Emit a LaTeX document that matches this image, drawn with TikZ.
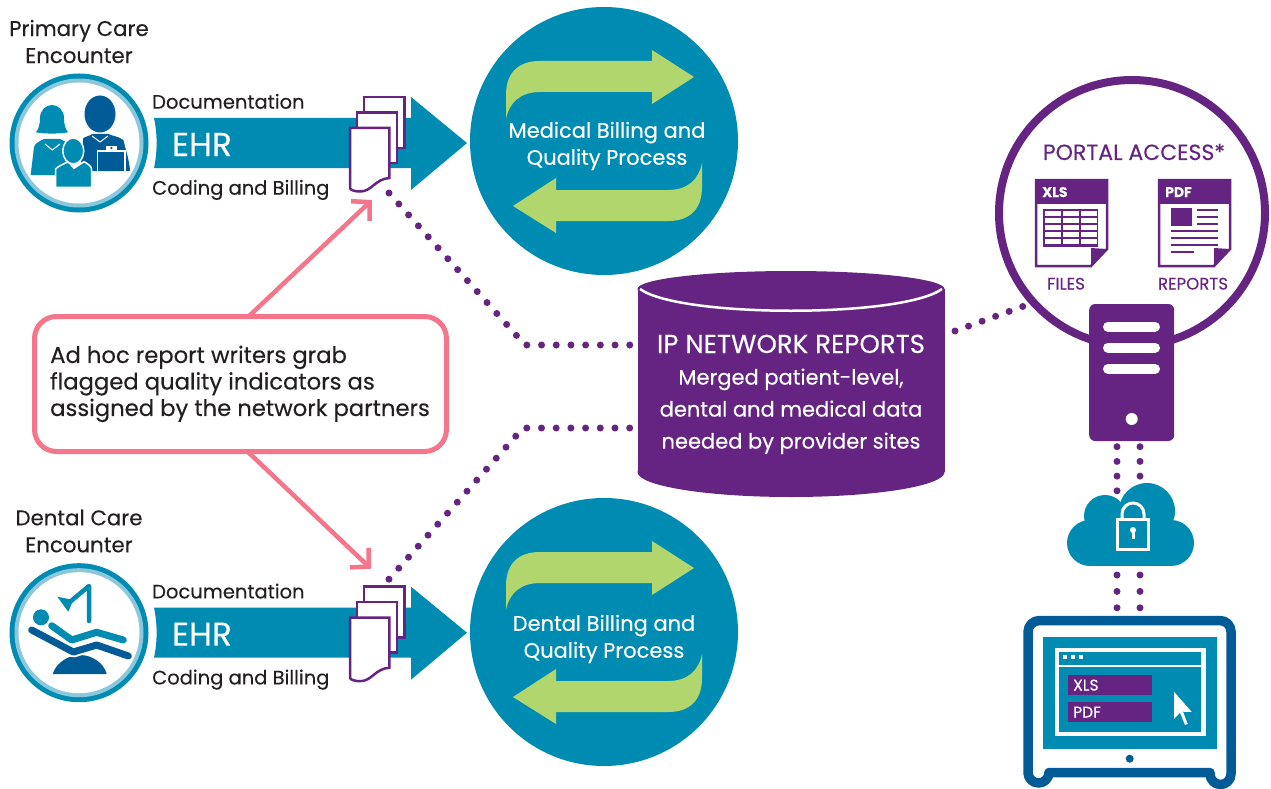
\documentclass[tikz,border=0pt]{standalone}
\usepackage{fontspec}
\setmainfont{Poppins}[FakeBold=0.25]
\usepackage{tikz}
\usetikzlibrary{arrows.meta,positioning}
\usepackage{xcolor}
\definecolor{hcteal}{RGB}{0,140,178}
\definecolor{hcring}{RGB}{139,200,220}
\definecolor{hcblue}{RGB}{0,91,150}
\definecolor{hcpurple}{RGB}{102,36,130}
\definecolor{hcgreen}{RGB}{178,214,110}
\definecolor{hcpink}{RGB}{245,117,138}
\definecolor{hcink}{RGB}{35,31,32}
\tikzstyle{inktext} = [text=hcink, font=\fontsize{21.3}{27}\selectfont, inner sep=0pt, align=center]
\tikzstyle{rowtext} = [text=hcink, font=\fontsize{19.5}{24}\selectfont, inner sep=0pt, anchor=base west]
\tikzstyle{whitetext} = [text=white, font=\fontsize{21}{27}\selectfont, inner sep=0pt, align=center]
\tikzstyle{dbtext} = [text=white, font=\fontsize{21}{32}\selectfont, inner sep=0pt, align=center]
\tikzstyle{smallpurple} = [text=hcpurple, font=\fontsize{16.6}{18}\selectfont, inner sep=0pt]
\tikzstyle{smallwhite} = [text=white, font=\fontsize{15.5}{18}\selectfont, inner sep=0pt]
\tikzstyle{pagebox} = [draw=hcpurple, fill=white, line width=2.5pt, line join=miter]
\tikzstyle{dotline} = [hcpurple, line width=7pt, line cap=round, dash pattern=on 0pt off 14.7pt]
\tikzstyle{dotnarrow} = [dotline, dash pattern=on 0pt off 14.4pt]
\tikzstyle{dotwide} = [dotline, dash pattern=on 0pt off 16.4pt]
\tikzstyle{pinkarrow} = [hcpink, line width=4.5pt, -{Straight Barb[length=13pt,width=27pt,line width=4.5pt]}]
\tikzstyle{notebox} = [draw=hcpink, line width=5pt, rounded corners=22pt, fill=white, minimum width=412pt, minimum height=135pt]
\tikzset{
  pics/ehrrow/.style={code={
    % Ring
    \fill[hcteal] (79,143) circle (69.5);
    \fill[hcring] (79,143) circle (64.5);
    \fill[white] (79,143) circle (60.5);
    % Arrow
    \fill[hcteal] (154,118) .. controls (157.5,134) and (157.5,152) .. (154,168) -- (411,168) -- (411,190) -- (467,143) -- (411,97) -- (411,118) -- cycle;
    \node[whitetext, anchor=base west, font=\fontsize{33}{36}\selectfont] (-ehr) at (172,156) {EHR};
    \node[rowtext] (-doclabel) at (152,108.7) {Documentation};
    \node[rowtext] (-codelabel) at (152,194.7) {Coding and Billing};
    % Pages
    \draw[pagebox] (364,97) rectangle (404.3,148);
    \draw[pagebox] (357,112.5) rectangle (397,163);
    \draw[pagebox] (350,128) -- (389.3,128) -- (389.3,178) .. controls (375,179) and (372,191.5) .. (360,191.5) .. controls (355,191.5) and (350,190) .. (350,188) -- cycle;
    \coordinate (-docout) at (389,193);
    \coordinate (-docin) at (372,200);
    \coordinate (-doctop) at (389,89.5);
    \coordinate (-docup) at (371,79);
  }},
  pics/billing/.style={code={
    \fill[hcteal] (604,141) circle (134);
    \fill[hcgreen] (506,119) -- (506,95) .. controls (506,73) and (518,61) .. (540,61) -- (652,61) -- (652,50) -- (694,77) -- (652,104) -- (652,92) -- (540,92) .. controls (520,92) and (509,103) .. (506,119) -- cycle;
    \fill[hcgreen] (702,163) -- (702,187) .. controls (702,209) and (690,221) .. (668,221) -- (556,221) -- (556,233) -- (513,206) -- (556,178) -- (556,190) -- (668,190) .. controls (688,190) and (699,179) .. (702,163) -- cycle;
  }},
  pics/filepage/.style={code={
    \draw[hcpurple, fill=white, line width=2.5pt] (0,0) -- (71,0) -- (71,69) -- (55,86) -- (0,86) -- cycle;
    \fill[hcpurple] (0,0) rectangle (71,24);
    \fill[hcpurple] (71,69) -- (55,86) -- (55,68) -- cycle;
  }}
}
\begin{document}
\begin{tikzpicture}[x=1pt,y=-1pt]
\useasboundingbox (0,0) rectangle (1271,789);

% Billing circles
\pic (medical) at (0,0) {billing};
\pic (dental) at (0,491) {billing};
\node[whitetext] (medicaltext) at (607,146) {Medical Billing and\\Quality Process};
\node[whitetext] (dentaltext) at (604,639) {Dental Billing and\\Quality Process};

% Encounter rows
\pic (primary) at (0,0) {ehrrow};
\pic (care) at (0,489.7) {ehrrow};
\node[inktext] (primarylabel) at (79,41.5) {Primary Care\\Encounter};
\node[inktext] (carelabel) at (79,531) {Dental Care\\Encounter};

% People icon
\fill[hcteal] (30.7,175) -- (34,147) .. controls (35,143) and (40,141) .. (44,139) -- (60,139) .. controls (64,141) and (70,143) .. (72,147) -- (72,175) -- cycle;
\draw[white, line width=1pt] (45,144) -- (52.3,150) -- (60,144);
\fill[hcteal] (35.7,132.3) .. controls (38,130) and (40,126) .. (40,118) .. controls (40,110) and (46,105) .. (52,105) .. controls (58,105) and (64,110) .. (64,118) .. controls (64,126) and (66,130) .. (68.3,132.3) .. controls (58,134) and (46,134) .. (35.7,132.3) -- cycle;
\fill[hcblue] (100,114) ellipse [x radius=15.5, y radius=18.5];
\fill[hcblue] (83.3,138) .. controls (86,136) and (90,136) .. (92.3,134) -- (108.3,134) .. controls (112,136) and (118,136) .. (123.3,140) .. controls (126,150) and (129,160) .. (130,170) -- (129,171) -- (80,171) -- cycle;
\draw[white, line width=1pt] (92,136) -- (100,142) -- (108,136);
\draw[white, line width=1.2pt, fill=hcblue] (97.3,171) -- (97.3,151) -- (125,151) -- (125,171);
\fill[white] (106,146) rectangle (116.7,151);
\fill[hcblue] (111.3,148) circle (1.3);
\draw[white, line width=1.5pt, fill=hcteal] (55.7,187.3) -- (55.7,169) .. controls (58,166) and (64,164) .. (68.3,161.7) -- (74,168.3) -- (84,161.7) .. controls (88,164) and (91.7,166) .. (91.7,170) -- (91.7,187.3) -- cycle;
\draw[white, line width=1.5pt, fill=hcteal] (73.3,151) ellipse [x radius=10.5, y radius=13];

% Chair icon
\fill[hcblue] (52.7,674) .. controls (56,663) and (68,655) .. (80,655) .. controls (92,655) and (104,663) .. (106.7,674) -- cycle;
\draw[white, line width=11pt, line join=round] (31.7,630) -- (73.3,652) -- (96.7,645) -- (128.3,656);
\draw[hcblue, line width=7pt, line cap=round, line join=round] (31.7,630) -- (73.3,652) -- (96.7,645) -- (128.3,656);
\draw[hcteal, line width=7pt, line cap=round, line join=round] (51.7,625.7) -- (71.7,640) -- (96.7,632.3) -- (123.3,640);
\fill[hcteal] (41,617.3) circle (8);
\draw[hcteal, line width=4.5pt, line join=round, line cap=round] (89,621) -- (89,586) -- (68.3,603.3);
\fill[hcteal] (57.3,596.7) -- (73.3,600) -- (68.3,611.7) -- cycle;

% Database
\fill[hcpurple] (637.5,289) rectangle (944.5,472);
\fill[hcpurple] (791,289) ellipse [x radius=153.5, y radius=18];
\fill[hcpurple] (791,472) ellipse [x radius=153.5, y radius=25];
\draw[white, line width=2.5pt] (640,289) .. controls (680,318) and (902,318) .. (942,289);
\node[dbtext, anchor=base, font=\fontsize{26}{30}\selectfont] (dbtitle) at (791,353) {IP NETWORK REPORTS};
\node[dbtext, below=15pt of dbtitle] (dbbody) {Merged patient-level,\\dental and medical data\\needed by provider sites};

% Portal
\node[draw=hcpurple, line width=8pt, fill=white, circle, minimum size=266pt, inner sep=0pt] (portal) at (1132,213) {};
\node[anchor=base, text=hcpurple, font=\fontsize{22}{26}\selectfont, inner sep=0pt] (portaltitle) at (1134,160) {PORTAL ACCESS*};
\pic (xlspage) at (1036,180) {filepage};
\pic (pdfpage) at (1159,180) {filepage};
\node[smallwhite, anchor=base west, font=\bfseries\fontsize{14}{18}\selectfont] (xlstag) at (1042,197) {XLS};
\node[smallwhite, anchor=base west, font=\bfseries\fontsize{14}{18}\selectfont] (pdftag) at (1165,197) {PDF};
\node[smallpurple, anchor=base] (fileslabel) at (1066,289.5) {FILES};
\node[smallpurple, anchor=base] (reportslabel) at (1193,289.5) {REPORTS};

% Table and report lines
\fill[hcpurple] (1043,209) rectangle (1098,247);
\foreach \col in {0,1,2} \foreach \row in {0,...,4}
  \fill[white] ({1045+\col*18},{211.2+\row*7}) rectangle ++(16,5);
\fill[hcpurple] (1170.7,208) rectangle (1192,226);
\foreach \liney in {210,217,224}
  \draw[hcpurple, line width=2.5pt] (1197,\liney) -- (1218,\liney);
\foreach \liney in {231,238,245}
  \draw[hcpurple, line width=2.5pt] (1170.7,\liney) -- (1218,\liney);
\draw[hcpurple, line width=2.5pt] (1170.7,252) -- (1194,252);

% Server
\node[fill=hcpurple, rounded corners=6pt, minimum width=85pt, minimum height=137pt, inner sep=0pt] (server) at (1131.7,372.5) {};
\foreach \bary in {326.7,347.7,369}
  \draw[white, line width=10pt, line cap=round] (1108,\bary) -- (1155,\bary);
\fill[white] (1131.7,419) circle (6);

% Dotted connectors
\coordinate (primarybend) at (525,345);
\coordinate (carebend) at (523,428);
\coordinate (dbleft) at (632,345);
\coordinate (dbleftlow) at (632,428);
\coordinate (dbright) at (955,331);
\coordinate (portalin) at (1024,306);
\coordinate (serverleft) at (1117,446.7);
\coordinate (serverright) at (1140,446.7);
\coordinate (cloudleft) at (1117,491);
\coordinate (cloudright) at (1140,491);
\coordinate (lowleft) at (1117,575);
\coordinate (lowright) at (1140,575);
\coordinate (screenleft) at (1117,608);
\coordinate (screenright) at (1140,608);
\draw[dotline] (primary-docout) -- (primarybend) -- (dbleft);
\draw[dotline] (care-doctop) -- (carebend) -- (dbleftlow);
\draw[dotnarrow] (dbright) -- (portalin);
\draw[dotline] (serverleft) -- (cloudleft);
\draw[dotline] (serverright) -- (cloudright);
\draw[dotwide] (lowleft) -- (screenleft);
\draw[dotwide] (lowright) -- (screenright);

% Cloud
\fill[hcteal] (1090,543) circle (23);
\fill[hcteal] (1171,543) circle (23);
\fill[hcteal] (1105,516) circle (21);
\fill[hcteal] (1147,511) circle (28);
\fill[hcteal] (1090,525) rectangle (1171,566);
\draw[white, line width=3pt] (1117.2,519.5) rectangle (1148.5,549.5);
\draw[white, line width=3pt] (1122,519) -- (1122,514) arc (180:360:11) -- (1144,519);
\fill[white] (1133,530) circle (3);
\fill[white] (1131.5,530) rectangle (1134.5,539);

% Monitor
\draw[hcblue, line width=9.5pt, line join=round] (1028,774) -- (1028,632) arc (180:270:11.5) -- (1220,620.5) arc (270:360:11) -- (1231,774) arc (0:180:10.5) -- (1210,772.5) -- (1049,772.5) arc (0:180:10.5) -- cycle;
\fill[hcteal] (1043,637) rectangle (1217,749);
\draw[white, line width=4.5pt] (1057.2,650.2) rectangle (1203.5,733.8);
\draw[white, line width=2pt] (1057,666) -- (1204,666);
\foreach \dotx in {1065,1073,1081}
  \fill[white] (\dotx-2.2,654.8) rectangle (\dotx+2.2,659.2);
\node[fill=hcpurple, minimum width=84pt, minimum height=20pt, inner sep=0pt] (xlsbar) at (1110,685) {};
\node[fill=hcpurple, minimum width=84pt, minimum height=20pt, inner sep=0pt] (pdfbar) at (1110,712) {};
\node[smallwhite, anchor=base west] (xlsname) at (1073,690.5) {XLS};
\node[smallwhite, anchor=base west] (pdfname) at (1073,717.5) {PDF};
\fill[white] (1174,691.7) -- (1174,719) -- (1180,712.7) -- (1185,725) -- (1187.7,724) -- (1183,711.7) -- (1191.7,712) -- cycle;
\fill[hcblue] (1129.7,758.7) circle (4);

% Note and arrows
\coordinate (noteup) at (247,318);
\coordinate (notedown) at (247,451);
\draw[pinkarrow] (noteup) -- (primary-docin);
\draw[pinkarrow] (notedown) -- (care-docup);
\node[notebox] (adhoc) at (240.5,384) {};
\node[inktext, align=left, anchor=north west, font=\fontsize{22.7}{26.5}\selectfont] (adhoctext) at (50,345.5) {Ad hoc report writers grab\\flagged quality indicators as\\assigned by the network partners};
\end{tikzpicture}
\end{document}
